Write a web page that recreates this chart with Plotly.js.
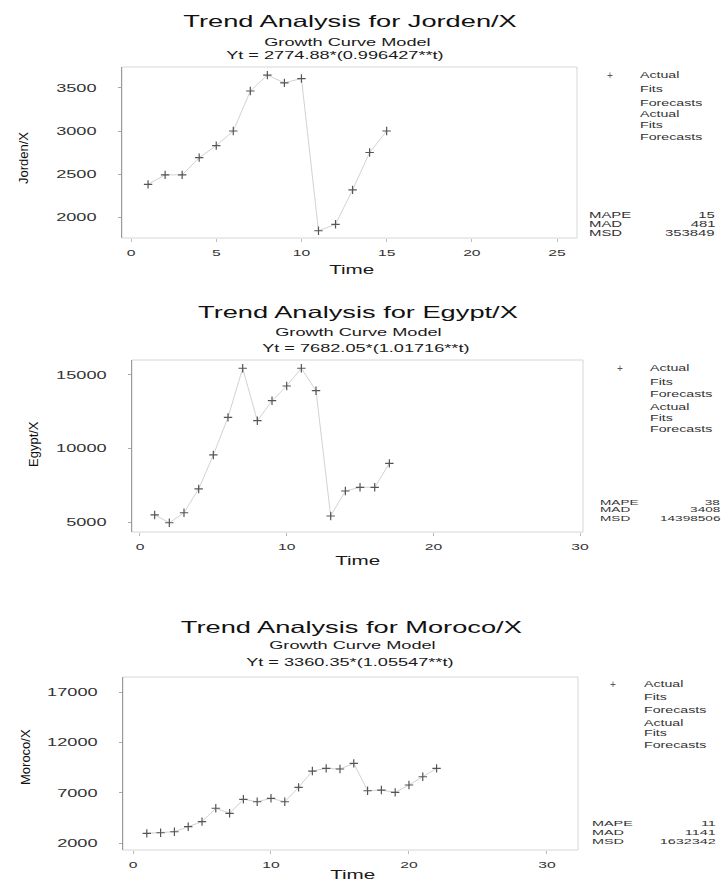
<!DOCTYPE html>
<html>
<head>
<meta charset="utf-8">
<script src="https://cdn.plot.ly/plotly-3.0.1.min.js"></script>
<style>body{margin:0;background:#fff;}#chart{width:724px;height:884px;}</style>
</head>
<body>
<div id="chart"></div>
<script>
// ---------------- DATA ----------------
const jordanTime   = [1,2,3,4,5,6,7,8,9,10,11,12,13,14,15];
const jordanActual = [2380,2490,2490,2690,2830,3000,3465,3650,3560,3610,1840,1915,2315,2750,3000];

const egyptTime   = [1,2,3,4,5,6,7,8,9,10,11,12,13,14,15,16,17];
const egyptActual = [5480,4950,5630,7250,9560,12120,15460,11890,13250,14250,15460,13930,5410,7110,7360,7360,8990];

const moroccoTime   = [1,2,3,4,5,6,7,8,9,10,11,12,13,14,15,16,17,18,19,20,21,22];
const moroccoActual = [2960,3020,3120,3620,4120,5450,4950,6340,6100,6440,6100,7530,9150,9410,9350,9910,7190,7260,7030,7760,8580,9410];

const jordanXTicks  = [0,5,10,15,20,25];
const jordanYTicks  = [2000,2500,3000,3500];
const egyptXTicks   = [0,10,20,30];
const egyptYTicks   = [5000,10000,15000];
const moroccoXTicks = [0,10,20,30];
const moroccoYTicks = [2000,7000,12000,17000];

const titles    = ['Trend Analysis for Jorden/X','Trend Analysis for Egypt/X','Trend Analysis for Moroco/X'];
const subtitle  = 'Growth Curve Model';
const formulas  = ['Yt = 2774.88*(0.996427**t)','Yt = 7682.05*(1.01716**t)','Yt = 3360.35*(1.05547**t)'];
const yTitles   = ['Jorden/X','Egypt/X','Moroco/X'];
const xTitle    = 'Time';
const legendLabels = ['Actual','Fits','Forecasts','Actual','Fits','Forecasts'];
const statNames    = ['MAPE','MAD','MSD'];
const jordanStats  = ['15','481','353849'];
const egyptStats   = ['38','3408','14398506'];
const moroccoStats = ['11','1141','1632342'];

// ---------------- LAYOUT HELPERS ----------------
const W = 724, H = 884;
const FONT = 'Liberation Sans, Arial, sans-serif';
const annotations = [];
const stretch = [];
function ann(text, x, y, size, anchor, K, extra) {
  annotations.push(Object.assign({
    text: text, x: x / W, y: 1 - y / H, xref: 'paper', yref: 'paper',
    xanchor: anchor, yanchor: 'middle', showarrow: false,
    font: {family: FONT, size: size, color: '#1a1a1a'}
  }, extra || {}));
  stretch.push({K: K, anchor: anchor});
}

const panels = [
  {title: [350, 21], sub: [347, 42], form: [335, 55], time: [351, 270], ytitle: [23, 158],
   plus: [610, 75], legX: 638, legY: [75, 89, 103, 114, 125, 137],
   statX: 587, valX: 717, statY: [215, 224, 233], statSize: 8.5, statK: 1.75, stats: jordanStats},
  {title: [358, 312], sub: [358, 332], form: [366, 348], time: [357, 561], ytitle: [33, 444],
   plus: [620, 368], legX: 648, legY: [368, 382, 394, 407, 418, 429],
   statX: 598, valX: 722, statY: [502, 510, 518], statSize: 6.8, statK: 2.0, stats: egyptStats},
  {title: [351, 627], sub: [352, 645], form: [350, 662], time: [352, 875], ytitle: [25, 757],
   plus: [613, 684], legX: 642, legY: [684, 697, 710, 723, 733, 745],
   statX: 590, valX: 718, statY: [823, 832, 841], statSize: 8, statK: 1.8, stats: moroccoStats}
];

panels.forEach((p, i) => {
  ann(titles[i], p.title[0], p.title[1], 16.5, 'center', 1.65, {font: {family: FONT, size: 16.5, color: '#111'}});
  ann(subtitle, p.sub[0], p.sub[1], 11, 'center', 1.65);
  ann(formulas[i], p.form[0], p.form[1], 11, 'center', 1.65);
  ann(xTitle, p.time[0], p.time[1], 12.5, 'center', 1.65);
  ann(yTitles[i], p.ytitle[0], p.ytitle[1], 13, 'center', 1, {textangle: -90, font: {family: FONT, size: 13, color: '#111'}});
  ann('+', p.plus[0], p.plus[1], 10, 'center', 1, {font: {family: FONT, size: 10, color: '#555'}});
  legendLabels.forEach((t, j) => ann(t, p.legX, p.legY[j], 8.6, 'left', 1.65, {font: {family: FONT, size: 8.6, color: '#333'}}));
  statNames.forEach((t, j) => {
    ann(t, p.statX, p.statY[j], p.statSize, 'left', p.statK, {font: {family: FONT, size: p.statSize, color: '#333'}});
    ann(p.stats[j], p.valX, p.statY[j], p.statSize, 'right', p.statK, {font: {family: FONT, size: p.statSize, color: '#333'}});
  });
});

// axes (pixel boxes of each plotting frame)
function xAxis(l, r, range, ticks, anchor) {
  return {domain: [l / W, r / W], range: range, anchor: anchor, tickvals: ticks, ticktext: ticks.map(String),
    showgrid: false, zeroline: false, showline: false, ticks: 'outside', ticklen: 3, tickcolor: '#bbb',
    ticklabelstandoff: 3, tickfont: {family: FONT, size: 9.5, color: '#333'}, fixedrange: true};
}
function yAxis(t, b, range, ticks, anchor) {
  return {domain: [1 - b / H, 1 - t / H], range: range, anchor: anchor, tickvals: ticks, ticktext: ticks.map(String),
    showgrid: false, zeroline: false, showline: true, linecolor: '#9a9a9a', linewidth: 1.2,
    ticks: 'outside', ticklen: 3, tickcolor: '#aaa',
    ticklabelstandoff: 19, tickfont: {family: FONT, size: 11, color: '#333'}, fixedrange: true};
}

const box = (xr, yr) => ({type: 'rect', xref: xr + ' domain', yref: yr + ' domain', x0: 0, x1: 1, y0: 0, y1: 1,
  line: {color: '#d6d6d6', width: 1}, layer: 'below'});

function series(x, y, xa, ya) {
  return {x: x, y: y, xaxis: xa, yaxis: ya, type: 'scatter', mode: 'lines+markers', cliponaxis: false,
    line: {color: '#d2d2d2', width: 1},
    marker: {symbol: 'cross-thin-open', size: 6, color: '#555', line: {color: '#555', width: 1.2}},
    showlegend: false, hoverinfo: 'skip'};
}

const data = [
  series(jordanTime, jordanActual, 'x', 'y'),
  series(egyptTime, egyptActual, 'x2', 'y2'),
  series(moroccoTime, moroccoActual, 'x3', 'y3')
];

const layout = {
  width: W, height: H, margin: {l: 0, r: 0, t: 0, b: 0},
  paper_bgcolor: '#fff', plot_bgcolor: 'rgba(0,0,0,0)',
  font: {family: FONT, color: '#222'},
  showlegend: false,
  xaxis:  xAxis(122, 577, [-0.53, 26.17], jordanXTicks, 'y'),
  yaxis:  yAxis(67, 238, [1756, 3744], jordanYTicks, 'x'),
  xaxis2: xAxis(132, 583, [-0.545, 30.2], egyptXTicks, 'y2'),
  yaxis2: yAxis(360, 532, [4320, 16020], egyptYTicks, 'x2'),
  xaxis3: xAxis(123, 578, [-0.725, 32.25], moroccoXTicks, 'y3'),
  yaxis3: yAxis(677, 850, [1305, 18490], moroccoYTicks, 'x3'),
  shapes: [box('x', 'y'), box('x2', 'y2'), box('x3', 'y3')],
  annotations: annotations
};

// horizontally stretch glyphs (the reference scan is widened)
function stretchEl(el, K, anchor) {
  const len = el.getComputedTextLength();
  if (!len || K === 1) return;
  const bb = el.getBBox();
  el.setAttribute('textLength', (len * K).toFixed(2));
  el.setAttribute('lengthAdjust', 'spacingAndGlyphs');
  if (anchor === 'left') { el.setAttribute('text-anchor', 'start'); el.setAttribute('x', bb.x.toFixed(2)); }
  else if (anchor === 'right') { el.setAttribute('text-anchor', 'end'); el.setAttribute('x', (bb.x + bb.width).toFixed(2)); }
}

Plotly.newPlot('chart', data, layout, {staticPlot: true, displayModeBar: false}).then(gd => {
  gd.querySelectorAll('.xaxislayer-above text, .yaxislayer-above text').forEach(el => stretchEl(el, 1.65, null));
  gd.querySelectorAll('g.annotation').forEach(g => {
    const idx = +g.getAttribute('data-index');
    const s = stretch[idx];
    const t = g.querySelector('text.annotation-text');
    if (s && t) stretchEl(t, s.K, s.anchor);
  });
});
</script>
</body>
</html>
